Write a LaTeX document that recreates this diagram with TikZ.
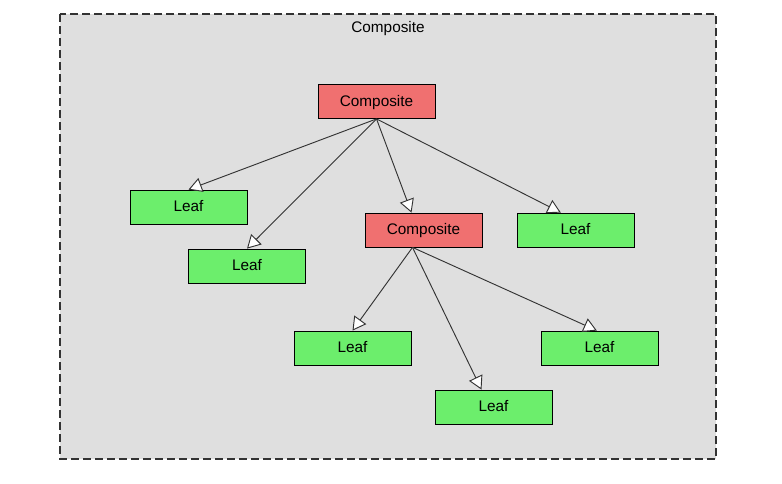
\documentclass[tikz,border=0pt]{standalone}
\usepackage{fontspec}
\setmainfont{Liberation Sans}
\usetikzlibrary{arrows.meta}
\definecolor{framegray}{HTML}{DFDFDF}
\definecolor{compred}{HTML}{F07070}
\definecolor{leafgreen}{HTML}{6CEE6C}
\definecolor{edgegray}{HTML}{333333}
\tikzset{
  compbox/.style={draw=black, line width=0.6pt, fill=compred, minimum width=87.75pt, minimum height=25.5pt, inner sep=0pt, text depth=1.5pt, font=\fontsize{11.5}{13}\selectfont},
  leafbox/.style={compbox, fill=leafgreen},
  inherit/.style={draw=edgegray, line width=0.7pt, -{Triangle[fill=white, length=10pt, width=11pt]}}
}

\begin{document}
\begin{tikzpicture}[x=0.75pt, y=-0.75pt]
			%%%%% START %%%%%
			\useasboundingbox (0, 0) rectangle (782, 483);
			
			\draw[draw=edgegray, line width=0.8pt, dash pattern=on 6pt off 3pt, fill=framegray] (60, 14) rectangle (716, 459);
			\node[font=\fontsize{11.5}{13}\selectfont] (title) at (388, 29) {Composite};
			
			\node[compbox] (comp1) at (376.5, 101.5) {Composite};
			\node[compbox] (comp2) at (423.5, 230) {Composite};
			
			\node[leafbox] (leaf1) at (188.5, 207) {Leaf};
			\node[leafbox] (leaf2) at (247, 266) {Leaf};
			\node[leafbox] (leaf3) at (575.5, 230) {Leaf};
			\node[leafbox] (leaf4) at (352.5, 348) {Leaf};
			\node[leafbox] (leaf5) at (599.5, 348) {Leaf};
			\node[leafbox] (leaf6) at (493.5, 407) {Leaf};
			
			\draw[inherit] (comp1.south) -- (leaf1.north);
			\draw[inherit] (comp1.south) -- (leaf2.north);
			\draw[inherit] (comp1.south) -- ([xshift=-9pt]comp2.north);
			\draw[inherit] (comp1.south) -- ([xshift=-11pt]leaf3.north);
			
			\draw[inherit] ([xshift=-8.25pt]comp2.south) -- (leaf4.north);
			\draw[inherit] ([xshift=-8.25pt]comp2.south) -- ([xshift=-9pt]leaf6.north);
			\draw[inherit] ([xshift=-8.25pt]comp2.south) -- ([xshift=-2pt]leaf5.north);
			%%%%% END %%%%%
\end{tikzpicture}
\end{document}
